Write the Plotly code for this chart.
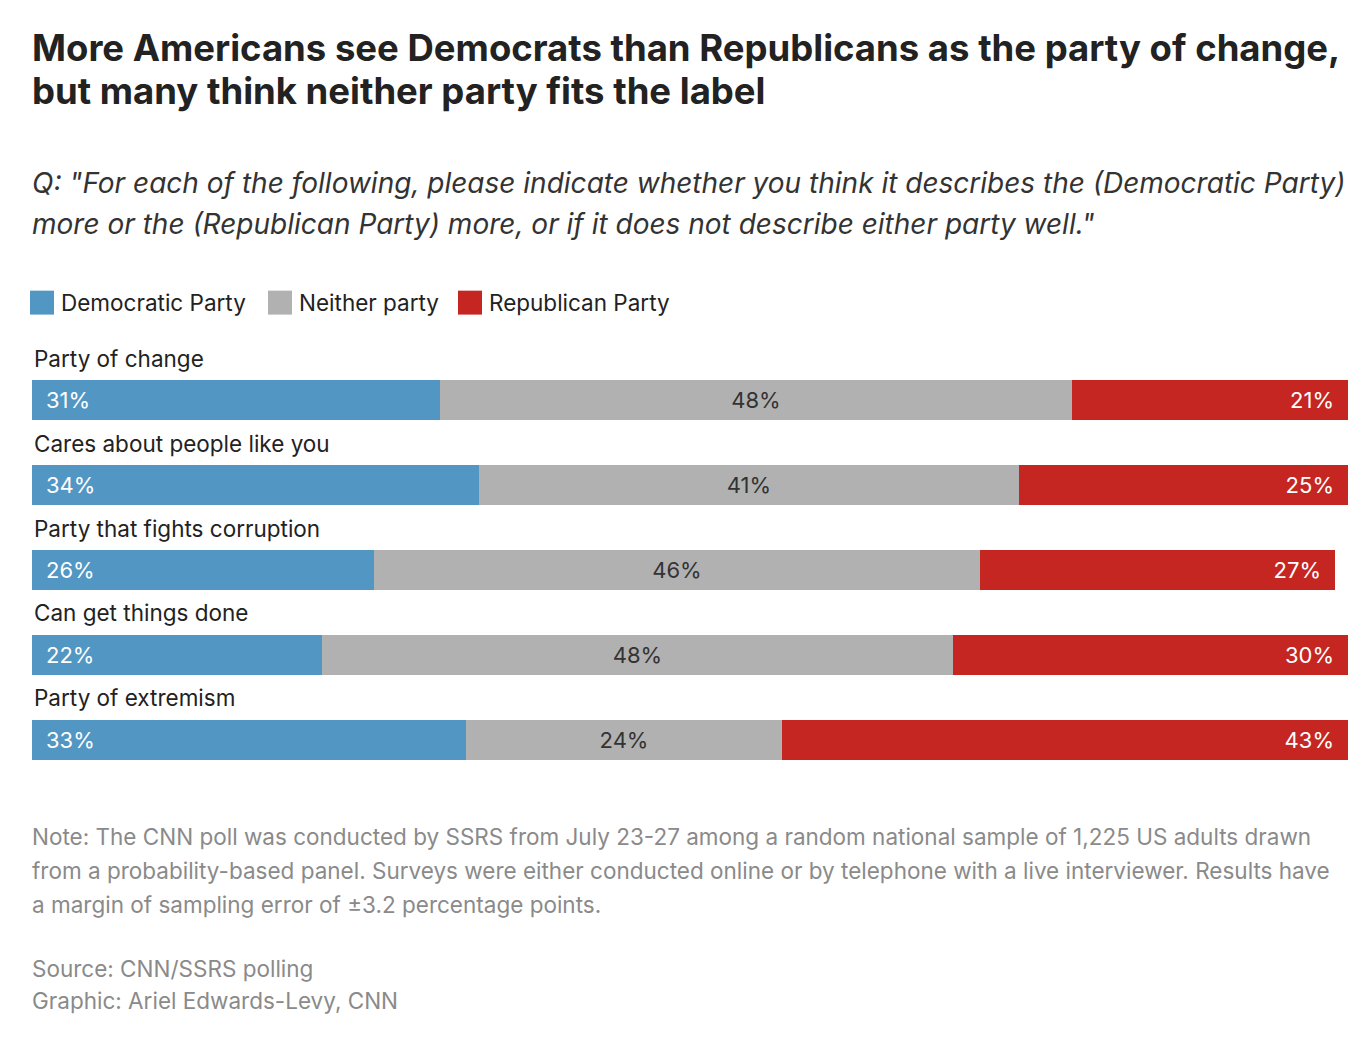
import plotly.graph_objects as go

categories = ["Party of change", "Cares about people like you", "Party that fights corruption",
              "Can get things done", "Party of extremism"]
dem = [31, 34, 26, 22, 33]
neither = [48, 41, 46, 48, 24]
rep = [21, 25, 27, 30, 43]

W, H = 1372, 1038
OFF = 8  # page body margin
PT, PB = 357.5, 782.5  # plot area in page pixels
PL, PR = 32, 1348
def py(p):
    return (PB - p) / (PB - PT)
def px(p):
    return (p - PL) / (PR - PL)

FONT = "Inter, Roboto, sans-serif"
fig = go.Figure()
specs = [("Democratic Party", dem, "#5296c4", "white", "start", "\u2002{}%"),
         ("Neither party", neither, "#b1b1b1", "#333333", "middle", "{}%"),
         ("Republican Party", rep, "#c52622", "white", "end", "{}%\u2002")]
for name, vals, col, tc, anc, fmt in specs:
    fig.add_trace(go.Bar(
        y=categories, x=vals, name=name, orientation="h", marker_color=col,
        marker_line_width=0, width=0.47,
        text=[fmt.format(v) for v in vals], textposition="inside", insidetextanchor=anc,
        textfont=dict(color=tc, size=22, family=FONT), hoverinfo="skip", showlegend=False))

for c in categories:
    fig.add_annotation(x=0, y=c, xref="paper", yref="y", text=c, showarrow=False,
                       xanchor="left", yanchor="middle", yshift=42,
                       font=dict(size=22.5, color="#222", family=FONT))

def line(text, ypage, size, color, x=30):
    fig.add_annotation(x=px(x), y=py(ypage), xref="paper", yref="paper", xanchor="left",
                       yanchor="middle", showarrow=False, text=text,
                       font=dict(size=size, color=color, family=FONT))

line("<b>More Americans see Democrats than Republicans as the party of change,</b>", 47, 36.5, "#222")
line("<b>but many think neither party fits the label</b>", 90, 36.5, "#222")
line("<i>Q: \"For each of the following, please indicate whether you think it describes the (Democratic Party)</i>", 182, 28, "#333")
line("<i>more or the (Republican Party) more, or if it does not describe either party well.\"</i>", 223, 28, "#333")
notes = ["Note: The CNN poll was conducted by SSRS from July 23-27 among a random national sample of 1,225 US adults drawn",
         "from a probability-based panel. Surveys were either conducted online or by telephone with a live interviewer. Results have",
         "a margin of sampling error of ±3.2 percentage points."]
for i, t in enumerate(notes):
    line(t, 837 + 34 * i, 22.5, "#8a8a8a")
line("Source: CNN/SSRS polling", 969, 22.5, "#8a8a8a")
line("Graphic: Ariel Edwards-Levy, CNN", 1002, 22.5, "#8a8a8a")

legend_items = [("Democratic Party", "#5296c4", 30), ("Neither party", "#b1b1b1", 268), ("Republican Party", "#c52622", 458)]
for name, col, x0 in legend_items:
    fig.add_shape(type="rect", xref="paper", yref="paper", x0=px(x0), x1=px(x0 + 24),
                  y0=py(314), y1=py(290), fillcolor=col, line_width=0)
    line(name, 302, 22.5, "#222", x=x0 + 29)

fig.update_layout(
    width=W, height=H, barmode="stack", bargap=0,
    margin=dict(l=PL - OFF, r=W - (PR - OFF), t=PT - OFF, b=H - (PB - OFF), pad=0),
    paper_bgcolor="white", plot_bgcolor="white",
    xaxis=dict(range=[0, 100], visible=False),
    yaxis=dict(visible=False, range=[len(categories) - 0.5, -0.5]),
    showlegend=False,
    uniformtext=dict(mode=False),
)
fig.write_html("out.html")
